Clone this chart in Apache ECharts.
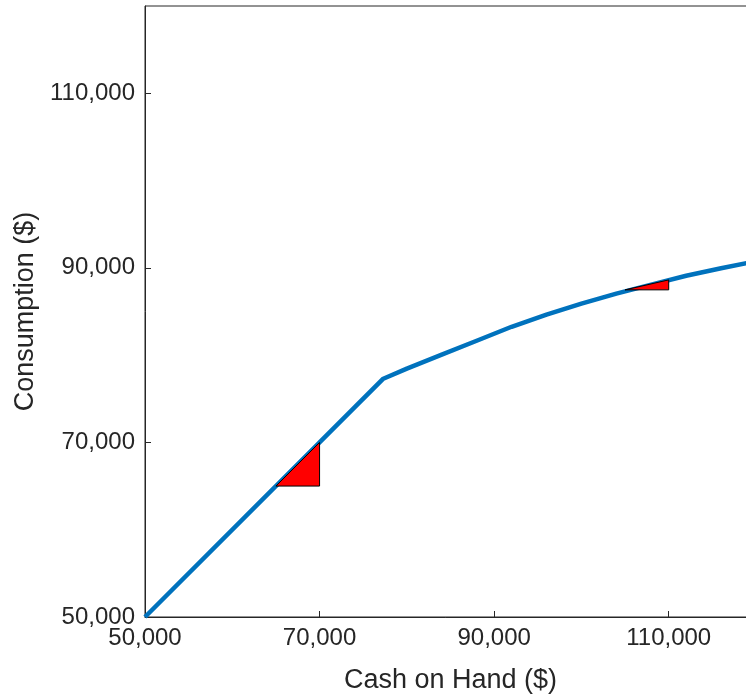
<!DOCTYPE html>
<html>
<head>
<meta charset="utf-8">
<script src="https://cdn.jsdelivr.net/npm/echarts@6/dist/echarts.min.js"></script>
<style>html,body{margin:0;padding:0;background:#fff}#c{width:746px;height:695px}</style>
</head>
<body>
<div id="c"></div>
<script>
// Consumption function: cash on hand (x) vs consumption (y)
const cashOnHand = [50000, 77300, 80000, 84000, 88000, 92000, 96000, 100000, 104000, 108000, 112000, 116000, 120000];
const consumption = [50000, 77300, 78450, 80050, 81650, 83250, 84650, 85900, 87050, 88080, 89100, 89950, 90750];
// Slope triangles (three vertices each)
const triangle1 = [[65000, 65000], [70000, 65000], [70000, 70000]];
const triangle2 = [[105000, 87480], [110000, 87480], [110000, 88620]];
const tickValues = [50000, 70000, 90000, 110000];

const lineData = cashOnHand.map((x, i) => [x, consumption[i]]);
const triData = [triangle1, triangle2].map(t => t.flat());
const fmt = v => v.toLocaleString('en-US');
const font = 'Liberation Sans, Arial, Helvetica, sans-serif';

const chart = echarts.init(document.getElementById('c'));
chart.setOption({
  animation: false,
  grid: {left: 145, top: 6, right: -10, bottom: 78, outerBoundsMode: 'none', containLabel: false,
         show: true, borderColor: '#262626', borderWidth: 1, backgroundColor: 'transparent'},
  xAxis: {
    type: 'value', min: 50000, max: 120000, interval: 10000,
    name: 'Cash on Hand ($)', nameLocation: 'middle', nameGap: 50,
    nameTextStyle: {fontFamily: font, fontSize: 27, color: '#262626'},
    axisLine: {show: true, lineStyle: {color: '#262626', width: 1}},
    axisTick: {show: true, inside: true, length: 6, customValues: tickValues, lineStyle: {color: '#262626'}},
    axisLabel: {customValues: tickValues, formatter: fmt, fontFamily: font, fontSize: 24, color: '#262626', margin: 9},
    splitLine: {show: false}
  },
  yAxis: {
    type: 'value', min: 50000, max: 120000, interval: 10000,
    name: 'Consumption ($)', nameLocation: 'middle', nameGap: 97,
    nameTextStyle: {fontFamily: font, fontSize: 27, color: '#262626'},
    axisLine: {show: true, lineStyle: {color: '#262626', width: 1}},
    axisTick: {show: true, inside: true, length: 6, customValues: tickValues, lineStyle: {color: '#262626'}},
    axisLabel: {customValues: tickValues, formatter: fmt, fontFamily: font, fontSize: 24, color: '#262626', margin: 10},
    splitLine: {show: false}
  },
  series: [
    {
      type: 'line', data: lineData, showSymbol: false, smooth: false,
      lineStyle: {color: '#0072BD', width: 4.5}, z: 2
    },
    {
      type: 'custom', data: triData, z: 3,
      dimensions: ['x1', 'y1', 'x2', 'y2', 'x3', 'y3'],
      encode: {x: [0, 2, 4], y: [1, 3, 5]},
      renderItem: function (params, api) {
        const pts = [0, 1, 2].map(k => api.coord([api.value(2 * k), api.value(2 * k + 1)]));
        return {type: 'polygon', shape: {points: pts}, style: {fill: '#FF0000', stroke: '#000000', lineWidth: 1}};
      }
    }
  ]
});
</script>
</body>
</html>
